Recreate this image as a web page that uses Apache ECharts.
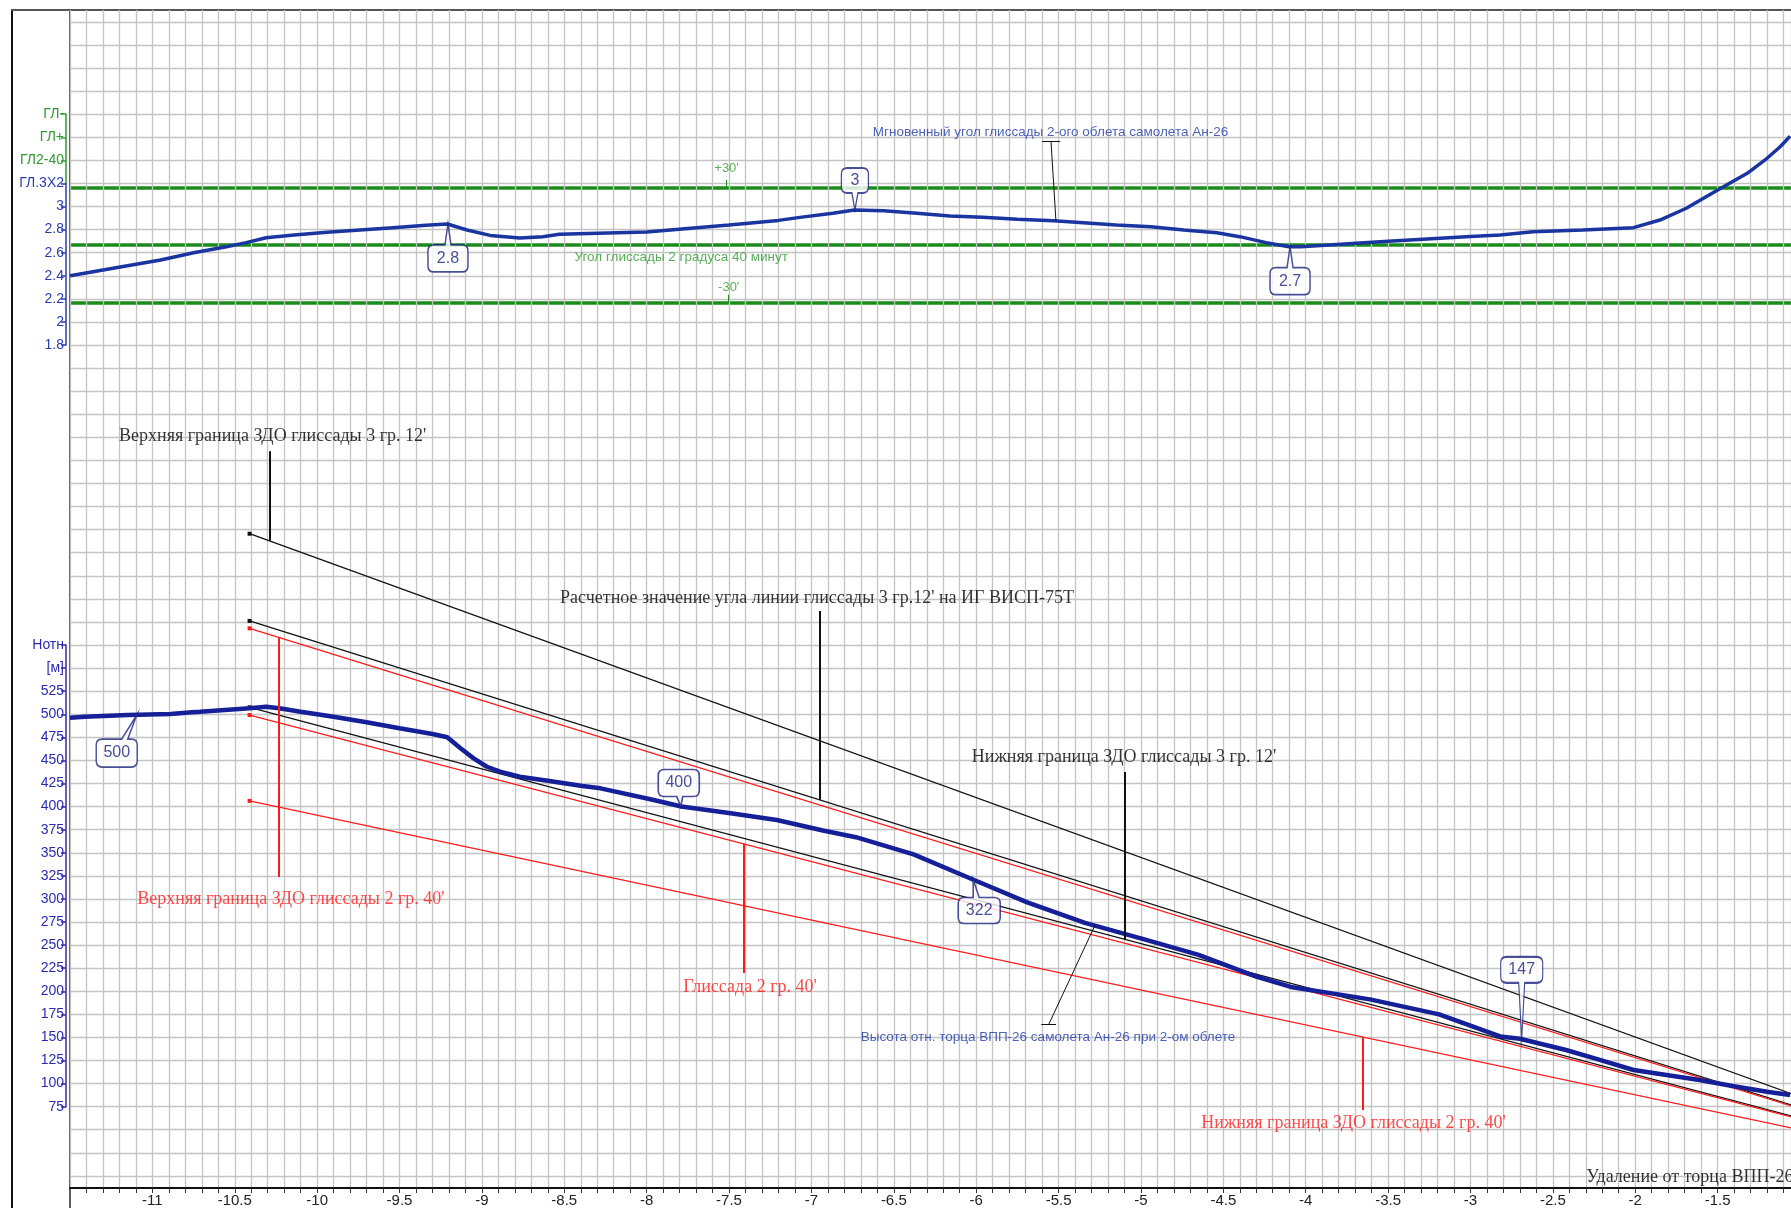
<!DOCTYPE html>
<html>
<head>
<meta charset="utf-8">
<script src="https://cdn.jsdelivr.net/npm/echarts@6/dist/echarts.min.js"></script>
<style>
html,body{margin:0;padding:0;background:#fff;overflow:hidden;}
#main{width:1791px;height:1208px;}
</style>
</head>
<body>
<div id="main"></div>
<script>
// ---------- данные ----------
// ось X: удаление от торца ВПП, км (правый край обрезан)
var xMin = -11.5, xMax = -1.0545;
// мгновенный угол глиссады (верхний график), град
var angleX = [-11.5,-11.36,-11.16,-10.95,-10.75,-10.55,-10.43,-10.31,-10.14,-9.94,-9.74,-9.54,-9.34,-9.21,-9.09,-8.95,-8.77,-8.63,-8.53,-8.0,-7.5,-7.2,-7.07,-6.87,-6.74,-6.56,-6.36,-6.16,-5.96,-5.75,-5.53,-5.35,-5.15,-4.94,-4.74,-4.54,-4.40,-4.24,-4.10,-4.03,-3.5,-3.0,-2.82,-2.62,-2.32,-2.01,-1.85,-1.69,-1.57,-1.47,-1.32,-1.20,-1.12,-1.06];
var angleY = [2.40,2.435,2.485,2.537,2.60,2.652,2.687,2.73,2.753,2.777,2.797,2.817,2.837,2.849,2.797,2.75,2.727,2.739,2.76,2.78,2.84,2.88,2.906,2.941,2.97,2.964,2.941,2.918,2.907,2.889,2.877,2.86,2.84,2.825,2.797,2.773,2.739,2.687,2.652,2.652,2.70,2.74,2.753,2.782,2.797,2.817,2.883,2.985,3.085,3.167,3.288,3.418,3.518,3.61];
// уровни: ГЛ+30', 2°40', ГЛ-30'
var greenLevels = [3.1667, 2.6667, 2.1667];
// высота самолета (нижний график), м
var heightX = [-11.5,-11.41,-11.15,-10.89,-10.76,-10.71,-10.41,-10.31,-10.23,-10.10,-9.90,-9.70,-9.50,-9.30,-9.21,-9.13,-9.05,-8.97,-8.89,-8.77,-8.59,-8.39,-8.28,-7.97,-7.79,-7.49,-7.21,-6.93,-6.73,-6.38,-6.02,-5.69,-5.34,-4.99,-4.65,-4.30,-4.09,-3.61,-3.19,-2.82,-2.70,-2.42,-2.21,-2.01,-1.81,-1.61,-1.41,-1.20,-1.06];
var heightY = [496.3,497.4,499.2,500.3,502.2,502.8,506.5,508.2,506.5,502.8,497.4,491.3,484.8,478.6,475.1,463.2,452.3,443.2,437.8,432.4,427.7,422.3,419.8,407.7,400.2,392.8,385.5,374.2,366.9,348.3,321.1,296.3,274,256.7,239.4,215.9,204.7,191.2,175,151.1,148.5,136.4,125.5,114.7,109.3,103.9,97.4,91.2,87.6];
// прямые глиссад: начало и конец (x, высота)
var slopeX = [-10.41, -1.0];
var slopeNames = ['ЗДО 3°12\' верх','Глиссада 3°12\'','ЗДО 2°40\' верх','ЗДО 3°12\' низ','Глиссада 2°40\'','ЗДО 2°40\' низ'];
var slopeStart = [695.6, 601.1, 593.1, 507.6, 499.2, 406.2];
var slopeEnd   = [85.6, 73.9, 72.9, 62.4, 61.4, 50.0];
var slopeColor = ['#111','#111','#ff1a1a','#111','#ff1a1a','#ff1a1a'];

// ---------- оформление ----------
var BLUE = '#1a35a0', NAVY = '#141f98', GREEN = '#1a8c1a', GLBL = '#2f9a2f', RED = '#ff1a1a';
var ANNB = '#1f3aa8', CALL = '#1a237e';
var SANS = 'Liberation Sans, Arial, sans-serif', SERIF = 'Liberation Serif, Times New Roman, serif';
var GRIDC = '#c4c4c4';

function pairs(xs, ys){ return xs.map(function(x,i){ return [x, ys[i]]; }); }

// выноска с хвостиком
function callout(txt, x, y, w, h, tail, dir, tipDx, baseDx){
  var r = 6, cx = w/2, tipX = cx + tipDx, b = cx + baseDx, p;
  if(dir === 'up'){
    var t = tail, B = tail + h;
    p = 'M'+tipX+' 0L'+(b+3)+' '+t+'L'+(w-r)+' '+t+'Q'+w+' '+t+' '+w+' '+(t+r)+'L'+w+' '+(B-r)+'Q'+w+' '+B+' '+(w-r)+' '+B+'L'+r+' '+B+'Q0 '+B+' 0 '+(B-r)+'L0 '+(t+r)+'Q0 '+t+' '+r+' '+t+'L'+(b-3)+' '+t+'Z';
  } else {
    var B2 = h + tail;
    p = 'M'+r+' 0L'+(w-r)+' 0Q'+w+' 0 '+w+' '+r+'L'+w+' '+(h-r)+'Q'+w+' '+h+' '+(w-r)+' '+h+'L'+(b+3)+' '+h+'L'+tipX+' '+B2+'L'+(b-3)+' '+h+'L'+r+' '+h+'Q0 '+h+' 0 '+(h-r)+'L0 '+r+'Q0 0 '+r+' 0Z';
  }
  return {
    value:[x,y], symbol:'path://'+p, symbolSize:[w, h+tail], symbolKeepAspect:false,
    symbolOffset:[cx - tipX, dir==='up' ? (h+tail)/2 : -(h+tail)/2],
    label:{show:true, formatter:txt, offset:[0, dir==='up' ? tail/2 : -tail/2]}
  };
}

// подписи
function txt(text, x, y, color, font, size, align){
  return {value:[x,y], label:{show:true, formatter:text, color:color, fontFamily:font, fontSize:size,
    position: align==='left' ? 'right' : 'inside', distance:0}};
}

var upperTexts = [
  txt('Мгновенный угол глиссады 2-ого облета самолета Ан-26', -5.549, 3.643, ANNB, SANS, 13.5),
  txt('+30\'', -7.515, 3.334, GLBL, SANS, 13),
  txt('Угол глиссады 2 градуса 40 минут', -7.79, 2.563, GLBL, SANS, 13.5),
  txt('-30\'', -7.502, 2.296, GLBL, SANS, 13)
];
var lowerTexts = [
  txt('Верхняя граница ЗДО глиссады 3 гр. 12\'', -10.27, 801.5, '#000', SERIF, 18),
  txt('Расчетное значение угла линии глиссады 3 гр.12\' на ИГ ВИСП-75Т', -6.966, 625.4, '#000', SERIF, 18),
  txt('Нижняя граница ЗДО глиссады 3 гр. 12\'', -5.103, 453.8, '#000', SERIF, 18),
  txt('Верхняя граница ЗДО глиссады 2 гр. 40\'', -10.159, 300, RED, SERIF, 18),
  txt('Глиссада 2 гр. 40\'', -7.373, 204.6, RED, SERIF, 18),
  txt('Нижняя граница ЗДО глиссады 2 гр. 40\'', -3.71, 57.5, RED, SERIF, 18),
  txt('Высота отн. торца ВПП-26 самолета Ан-26 при 2-ом облете', -5.564, 150.5, ANNB, SANS, 13.5),
  txt('Удаление от торца ВПП-26 [км]', -2.30, -1.8, '#000', SERIF, 18, 'left')
];
function seg(a, b, color, width){ return {coords:[a,b], lineStyle:{color:color, width:width, opacity:1}}; }
var upperLeaders = [
  seg([-5.546,3.568],[-5.516,2.877],'#111',1),
  seg([-5.60,3.568],[-5.49,3.568],'#111',1),
  seg([-7.515,3.23],[-7.515,3.1667],GREEN,1),
  seg([-7.502,2.236],[-7.502,2.1667],GREEN,1)
];
var lowerLeaders = [
  seg([-10.29,785],[-10.29,688],'#111',2),
  seg([-6.948,611.9],[-6.948,407.1],'#111',2),
  seg([-5.097,437.5],[-5.097,256.2],'#111',2),
  seg([-10.233,583.2],[-10.233,323.8],RED,2),
  seg([-7.412,359.7],[-7.412,219.8],RED,2),
  seg([-3.655,150.4],[-3.655,71.4],RED,2),
  seg([-5.28,271],[-5.56,164],'#111',1),
  seg([-5.605,164],[-5.515,164],'#111',1)
];
var upperCallouts = [
  callout('2.8', -9.206, 2.849, 40, 27, 21, 'up', 0, 0),
  callout('3', -6.736, 2.97, 27, 25, 17, 'down', 0, 0),
  callout('2.7', -4.095, 2.652, 40, 27, 21, 'up', 0, 0)
];
var lowerCallouts = [
  callout('500', -11.095, 499.2, 41, 28, 24, 'up', 20, 8),
  callout('400', -7.793, 400.2, 41, 27, 10, 'down', 2, 1),
  callout('322', -6.018, 321.1, 42, 26, 18, 'up', -6, -3),
  callout('147', -2.689, 148.5, 42, 26, 56, 'down', 0, 0)
];

var myChart = echarts.init(document.getElementById('main'));

var hiddenX = function(g){ return {gridIndex:g, type:'value', show:false, min:xMin, max:xMax}; };
var yLabel = function(color){ return {color:color, fontFamily:SANS, fontSize:14, margin:2}; };
var frameLine = function(color){ return {show:true, onZero:false, lineStyle:{color:color, width:2}}; };

var slopeSeries = slopeNames.map(function(n, i){
  return {
    name:n, type:'line', xAxisIndex:3, yAxisIndex:3, silent:true, z:4,
    showSymbol:true, animation:false,
    lineStyle:{color:slopeColor[i], width:1.3},
    itemStyle:{color:slopeColor[i]},
    data:[
      {value:[slopeX[0], slopeStart[i]], symbol:'rect', symbolSize:4},
      {value:[slopeX[1], slopeEnd[i]], symbol:'none'}
    ]
  };
});

var option = {
  animation:false,
  backgroundColor:'#fff',
  grid:[
    {left:12, top:10, right:0, bottom:0},
    {left:70, top:10, right:0, bottom:0},
    {left:70, top:10, right:0, bottom:19},
    {left:70, top:21.9, right:0, bottom:32.1},
    {left:66, top:183.44, right:0, bottom:863},
    {left:66, top:114.2, right:0, bottom:1024.56},
    {left:66, top:645.06, right:0, bottom:101.34}
  ],
  xAxis:[
    {gridIndex:0, type:'value', position:'top', min:0, max:1, axisLine:frameLine('#555'),
      axisTick:{show:false}, axisLabel:{show:false}, splitLine:{show:false}},
    hiddenX(1),
    {gridIndex:2, type:'value', min:xMin, max:xMax, interval:0.1, position:'bottom', z:3,
      axisLine:{show:true, onZero:false, lineStyle:{color:'#111', width:2}},
      axisTick:{show:true, length:5, lineStyle:{color:'#333', width:1}},
      splitLine:{show:true, lineStyle:{color:GRIDC, width:1.3}},
      axisLabel:{show:true, color:'#222', fontFamily:'Liberation Sans Narrow, Arial Narrow, Liberation Sans, sans-serif', fontSize:15, margin:5,
        showMinLabel:false, showMaxLabel:false,
        formatter:function(v){
          var d = v*2;
          if(Math.abs(d - Math.round(d)) > 1e-6) return '';
          if(Math.abs(v - xMin) < 1e-6) return '';
          return String(Math.round(v*10)/10);
        }}
    },
    hiddenX(3), hiddenX(4), hiddenX(5), hiddenX(6)
  ],
  yAxis:[
    {gridIndex:0, type:'value', min:0, max:1, axisLine:frameLine('#111'),
      axisTick:{show:false}, axisLabel:{show:false}, splitLine:{show:false}},
    {gridIndex:1, type:'value', min:0, max:1, axisLine:frameLine('#5a5a5a'),
      axisTick:{show:false}, axisLabel:{show:false}, splitLine:{show:false}},
    {gridIndex:2, type:'value', show:false, min:0, max:1},
    {gridIndex:3, type:'value', min:0, max:1250, interval:25,
      axisLine:{show:false}, axisTick:{show:false}, axisLabel:{show:false},
      splitLine:{show:true, lineStyle:{color:GRIDC, width:1.3}}},
    {gridIndex:3, type:'value', min:-5.4, max:4.6, show:false, splitLine:{show:false}},
    {gridIndex:4, type:'value', min:1.8, max:3.2, interval:0.2, position:'left',
      axisLine:{show:true, onZero:false, lineStyle:{color:'#2a3cb4', width:1.5}},
      axisTick:{show:true, length:5, lineStyle:{color:'#2a3cb4', width:1.5}},
      splitLine:{show:false},
      axisLabel:Object.assign(yLabel('#2a3cb4'), {formatter:function(v){
        if(Math.abs(v-3.2) < 1e-6) return 'ГЛ.3Х2';
        return String(Math.round(v*10)/10);
      }})},
    {gridIndex:5, type:'value', min:3.2, max:3.8, interval:0.2, position:'left',
      axisLine:{show:true, onZero:false, lineStyle:{color:GLBL, width:1.5}},
      axisTick:{show:true, length:5, lineStyle:{color:GLBL, width:1.5}},
      splitLine:{show:false},
      axisLabel:Object.assign(yLabel(GLBL), {showMinLabel:false, formatter:function(v){
        if(Math.abs(v-3.4) < 1e-6) return 'ГЛ2-40';
        if(Math.abs(v-3.6) < 1e-6) return 'ГЛ+';
        if(Math.abs(v-3.8) < 1e-6) return 'ГЛ-';
        return '';
      }})},
    {gridIndex:6, type:'value', min:75, max:575, interval:25, position:'left',
      axisLine:{show:true, onZero:false, lineStyle:{color:'#2a2ab4', width:1.5}},
      axisTick:{show:true, length:5, lineStyle:{color:'#2a2ab4', width:1.5}},
      splitLine:{show:false},
      axisLabel:Object.assign(yLabel('#2a2ab4'), {formatter:function(v){
        if(Math.abs(v-575) < 1e-6) return 'Нотн';
        if(Math.abs(v-550) < 1e-6) return '[м]';
        return String(v);
      }})}
  ],
  series:[
    // зеленые уровни
    {type:'lines', coordinateSystem:'cartesian2d', xAxisIndex:3, yAxisIndex:4, silent:true, z:2,
      lineStyle:{color:GREEN, width:3.5, opacity:1},
      data:greenLevels.map(function(v){ return {coords:[[xMin, v],[xMax, v]]}; })},
    // мгновенный угол
    {name:'Мгновенный угол', type:'line', xAxisIndex:3, yAxisIndex:4, showSymbol:false, silent:true, z:5,
      lineStyle:{color:BLUE, width:3.5}, data:pairs(angleX, angleY)},
    // высота
    {name:'Высота', type:'line', xAxisIndex:3, yAxisIndex:3, showSymbol:false, silent:true, z:6,
      lineStyle:{color:NAVY, width:4.5}, data:pairs(heightX, heightY)}
  ].concat(slopeSeries).concat([
    {type:'lines', coordinateSystem:'cartesian2d', xAxisIndex:3, yAxisIndex:4, silent:true, z:7, data:upperLeaders},
    {type:'lines', coordinateSystem:'cartesian2d', xAxisIndex:3, yAxisIndex:3, silent:true, z:7, data:lowerLeaders},
    {type:'scatter', xAxisIndex:3, yAxisIndex:4, symbolSize:1, silent:true, z:8, clip:false,
      itemStyle:{color:'rgba(0,0,0,0)'}, data:upperTexts},
    {type:'scatter', xAxisIndex:3, yAxisIndex:3, symbolSize:1, silent:true, z:8, clip:false,
      itemStyle:{color:'rgba(0,0,0,0)'}, data:lowerTexts},
    {type:'scatter', xAxisIndex:3, yAxisIndex:4, silent:true, z:9, clip:false,
      itemStyle:{color:'#fff', borderColor:CALL, borderWidth:1.6},
      label:{show:true, position:'inside', color:CALL, fontFamily:SANS, fontSize:16},
      data:upperCallouts},
    {type:'scatter', xAxisIndex:3, yAxisIndex:3, silent:true, z:9, clip:false,
      itemStyle:{color:'#fff', borderColor:CALL, borderWidth:1.6},
      label:{show:true, position:'inside', color:CALL, fontFamily:SANS, fontSize:16},
      data:lowerCallouts}
  ])
};
myChart.setOption(option);
</script>
</body>
</html>
